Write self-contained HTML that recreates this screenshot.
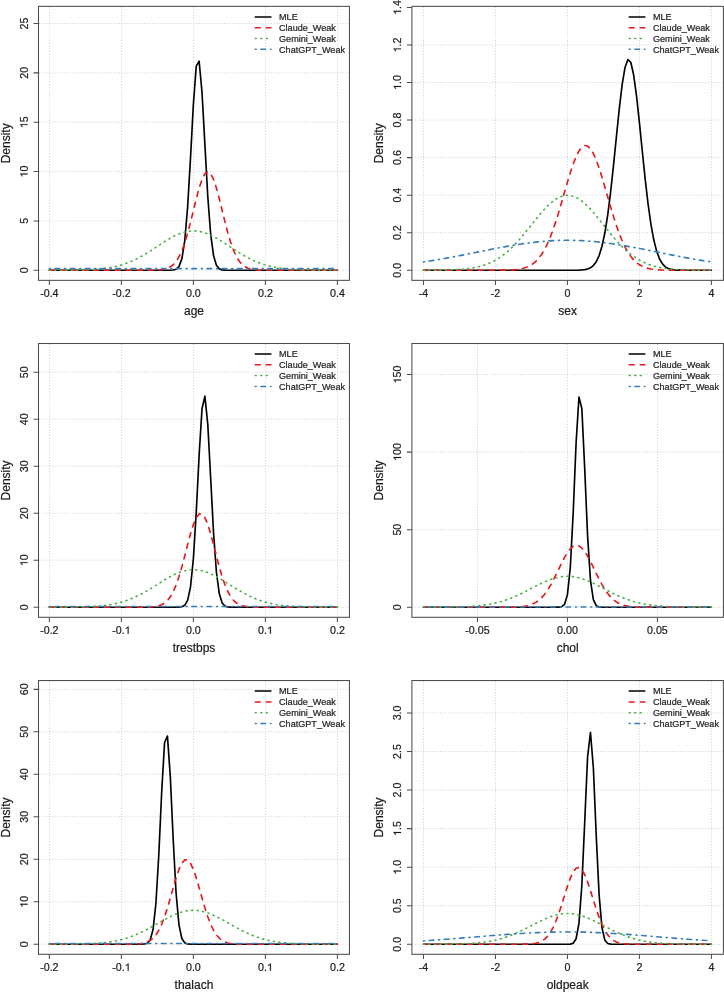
<!DOCTYPE html>
<html><head><meta charset="utf-8"><title>Density plots</title>
<style>
html,body{margin:0;padding:0;background:#fff;}
body{width:724px;height:992px;overflow:hidden;}
svg{display:block;will-change:transform;}
text{font-family:"Liberation Sans",sans-serif;fill:#111111;stroke:#333;stroke-width:0.22px;}
.tk{font-size:10.7px;}
.ttl{font-size:12px;}
.lg{font-size:9.08px;}
.hid{fill:none;stroke:none;}
.one{fill:#111111;stroke:#333;stroke-width:41px;}
</style></head>
<body>
<svg width="724" height="992" viewBox="0 0 724 992">
<rect width="724" height="992" fill="#ffffff"/>
<g stroke="#d0d0d0" stroke-width="1.0" stroke-dasharray="1.0 1.76" fill="none"><line x1="49.35" y1="6.85" x2="49.35" y2="279.85"/><line x1="121.36" y1="6.85" x2="121.36" y2="279.85"/><line x1="193.37" y1="6.85" x2="193.37" y2="279.85"/><line x1="265.39" y1="6.85" x2="265.39" y2="279.85"/><line x1="337.4" y1="6.85" x2="337.4" y2="279.85"/><line x1="39" y1="270.25" x2="348.95" y2="270.25"/><line x1="39" y1="220.9" x2="348.95" y2="220.9"/><line x1="39" y1="171.55" x2="348.95" y2="171.55"/><line x1="39" y1="122.2" x2="348.95" y2="122.2"/><line x1="39" y1="72.85" x2="348.95" y2="72.85"/><line x1="39" y1="23.5" x2="348.95" y2="23.5"/></g>
<polyline points="49.35,270.25 52.23,270.25 55.11,270.25 57.99,270.25 60.87,270.25 63.75,270.25 66.63,270.25 69.51,270.25 72.39,270.25 75.27,270.25 78.16,270.25 81.04,270.25 83.92,270.25 86.8,270.25 89.68,270.25 92.56,270.25 95.44,270.25 98.32,270.25 101.2,270.25 104.08,270.25 106.96,270.25 109.84,270.25 112.72,270.25 115.6,270.25 118.48,270.25 121.36,270.25 124.24,270.25 127.12,270.25 130,270.25 132.88,270.25 135.76,270.25 138.65,270.25 141.53,270.25 144.41,270.25 147.29,270.25 150.17,270.25 153.05,270.25 155.93,270.25 158.81,270.25 161.69,270.25 164.57,270.25 167.45,270.24 170.33,270.21 173.21,270.03 176.09,269.27 178.97,266.6 181.85,258.91 184.73,240.98 187.61,207.47 190.49,158.33 193.37,104.43 196.26,66.07 199.14,61.29 202.02,92.52 204.9,144.61 207.78,196.43 210.66,234.21 213.54,255.62 216.42,265.32 219.3,268.87 222.18,269.93 225.06,270.19 227.94,270.24 230.82,270.25 233.7,270.25 236.58,270.25 239.46,270.25 242.34,270.25 245.22,270.25 248.1,270.25 250.98,270.25 253.87,270.25 256.75,270.25 259.63,270.25 262.51,270.25 265.39,270.25 268.27,270.25 271.15,270.25 274.03,270.25 276.91,270.25 279.79,270.25 282.67,270.25 285.55,270.25 288.43,270.25 291.31,270.25 294.19,270.25 297.07,270.25 299.95,270.25 302.83,270.25 305.71,270.25 308.59,270.25 311.48,270.25 314.36,270.25 317.24,270.25 320.12,270.25 323,270.25 325.88,270.25 328.76,270.25 331.64,270.25 334.52,270.25 337.4,270.25" fill="none" stroke="#000000" stroke-width="1.65" stroke-linecap="round" stroke-linejoin="round"/>
<polyline points="49.35,270.25 52.23,270.25 55.11,270.25 57.99,270.25 60.87,270.25 63.75,270.25 66.63,270.25 69.51,270.25 72.39,270.25 75.27,270.25 78.16,270.25 81.04,270.25 83.92,270.25 86.8,270.25 89.68,270.25 92.56,270.25 95.44,270.25 98.32,270.25 101.2,270.25 104.08,270.25 106.96,270.25 109.84,270.25 112.72,270.25 115.6,270.25 118.48,270.25 121.36,270.25 124.24,270.25 127.12,270.25 130,270.25 132.88,270.25 135.76,270.25 138.65,270.25 141.53,270.25 144.41,270.24 147.29,270.24 150.17,270.22 153.05,270.18 155.93,270.1 158.81,269.95 161.69,269.66 164.57,269.16 167.45,268.3 170.33,266.9 173.21,264.72 176.09,261.5 178.97,256.93 181.85,250.77 184.73,242.88 187.61,233.3 190.49,222.33 193.37,210.54 196.26,198.77 199.14,188.03 202.02,179.38 204.9,173.76 207.78,171.81 210.66,173.76 213.54,179.38 216.42,188.03 219.3,198.77 222.18,210.54 225.06,222.33 227.94,233.3 230.82,242.88 233.7,250.77 236.58,256.93 239.46,261.5 242.34,264.72 245.22,266.9 248.1,268.3 250.98,269.16 253.87,269.66 256.75,269.95 259.63,270.1 262.51,270.18 265.39,270.22 268.27,270.24 271.15,270.24 274.03,270.25 276.91,270.25 279.79,270.25 282.67,270.25 285.55,270.25 288.43,270.25 291.31,270.25 294.19,270.25 297.07,270.25 299.95,270.25 302.83,270.25 305.71,270.25 308.59,270.25 311.48,270.25 314.36,270.25 317.24,270.25 320.12,270.25 323,270.25 325.88,270.25 328.76,270.25 331.64,270.25 334.52,270.25 337.4,270.25" fill="none" stroke="#E41A1C" stroke-width="1.65" stroke-linecap="round" stroke-linejoin="round" stroke-dasharray="5.0 6.0"/>
<polyline points="49.35,270.24 52.23,270.23 55.11,270.23 57.99,270.22 60.87,270.2 63.75,270.19 66.63,270.17 69.51,270.14 72.39,270.11 75.27,270.07 78.16,270.01 81.04,269.95 83.92,269.86 86.8,269.76 89.68,269.63 92.56,269.47 95.44,269.28 98.32,269.04 101.2,268.76 104.08,268.43 106.96,268.04 109.84,267.58 112.72,267.05 115.6,266.43 118.48,265.72 121.36,264.92 124.24,264.02 127.12,263 130,261.88 132.88,260.65 135.76,259.3 138.65,257.85 141.53,256.29 144.41,254.63 147.29,252.89 150.17,251.08 153.05,249.22 155.93,247.32 158.81,245.41 161.69,243.52 164.57,241.66 167.45,239.87 170.33,238.17 173.21,236.59 176.09,235.16 178.97,233.9 181.85,232.84 184.73,231.99 187.61,231.38 190.49,231 193.37,230.87 196.26,231 199.14,231.38 202.02,231.99 204.9,232.84 207.78,233.9 210.66,235.16 213.54,236.59 216.42,238.17 219.3,239.87 222.18,241.66 225.06,243.52 227.94,245.41 230.82,247.32 233.7,249.22 236.58,251.08 239.46,252.89 242.34,254.63 245.22,256.29 248.1,257.85 250.98,259.3 253.87,260.65 256.75,261.88 259.63,263 262.51,264.02 265.39,264.92 268.27,265.72 271.15,266.43 274.03,267.05 276.91,267.58 279.79,268.04 282.67,268.43 285.55,268.76 288.43,269.04 291.31,269.28 294.19,269.47 297.07,269.63 299.95,269.76 302.83,269.86 305.71,269.95 308.59,270.01 311.48,270.07 314.36,270.11 317.24,270.14 320.12,270.17 323,270.19 325.88,270.2 328.76,270.22 331.64,270.23 334.52,270.23 337.4,270.24" fill="none" stroke="#4DAF4A" stroke-width="1.65" stroke-linecap="round" stroke-linejoin="round" stroke-dasharray="1.0 4.52"/>
<polyline points="49.35,268.7 52.23,268.69 55.11,268.69 57.99,268.69 60.87,268.69 63.75,268.69 66.63,268.69 69.51,268.69 72.39,268.69 75.27,268.69 78.16,268.69 81.04,268.69 83.92,268.69 86.8,268.69 89.68,268.69 92.56,268.68 95.44,268.68 98.32,268.68 101.2,268.68 104.08,268.68 106.96,268.68 109.84,268.68 112.72,268.68 115.6,268.68 118.48,268.68 121.36,268.68 124.24,268.68 127.12,268.68 130,268.68 132.88,268.68 135.76,268.68 138.65,268.68 141.53,268.68 144.41,268.68 147.29,268.68 150.17,268.68 153.05,268.68 155.93,268.68 158.81,268.68 161.69,268.68 164.57,268.68 167.45,268.68 170.33,268.68 173.21,268.68 176.09,268.68 178.97,268.68 181.85,268.68 184.73,268.68 187.61,268.68 190.49,268.67 193.37,268.67 196.26,268.67 199.14,268.68 202.02,268.68 204.9,268.68 207.78,268.68 210.66,268.68 213.54,268.68 216.42,268.68 219.3,268.68 222.18,268.68 225.06,268.68 227.94,268.68 230.82,268.68 233.7,268.68 236.58,268.68 239.46,268.68 242.34,268.68 245.22,268.68 248.1,268.68 250.98,268.68 253.87,268.68 256.75,268.68 259.63,268.68 262.51,268.68 265.39,268.68 268.27,268.68 271.15,268.68 274.03,268.68 276.91,268.68 279.79,268.68 282.67,268.68 285.55,268.68 288.43,268.68 291.31,268.68 294.19,268.68 297.07,268.69 299.95,268.69 302.83,268.69 305.71,268.69 308.59,268.69 311.48,268.69 314.36,268.69 317.24,268.69 320.12,268.69 323,268.69 325.88,268.69 328.76,268.69 331.64,268.69 334.52,268.69 337.4,268.7" fill="none" stroke="#377EB8" stroke-width="1.65" stroke-linecap="round" stroke-linejoin="round" stroke-dasharray="1.0 4.7 4.6 4.9"/>
<rect x="38.5" y="6.35" width="310.95" height="274" fill="none" stroke="#4d4d4d" stroke-width="1.05"/>
<path d="M49.35 280.35v4.6M121.36 280.35v4.6M193.37 280.35v4.6M265.39 280.35v4.6M337.4 280.35v4.6M38.5 270.25h-5M38.5 220.9h-5M38.5 171.55h-5M38.5 122.2h-5M38.5 72.85h-5M38.5 23.5h-5" stroke="#4d4d4d" stroke-width="1.05" fill="none"/>
<g transform="translate(49.35 296.9)"><text x="0" y="0" class="tk" text-anchor="middle">-0.4</text></g>
<g transform="translate(121.36 296.9)"><text x="0" y="0" class="tk" text-anchor="middle">-0.2</text></g>
<g transform="translate(193.37 296.9)"><text x="0" y="0" class="tk" text-anchor="middle">0.0</text></g>
<g transform="translate(265.39 296.9)"><text x="0" y="0" class="tk" text-anchor="middle">0.2</text></g>
<g transform="translate(337.4 296.9)"><text x="0" y="0" class="tk" text-anchor="middle">0.4</text></g>
<g transform="translate(27.6 270.25) rotate(-90)"><text x="0" y="0" class="tk" text-anchor="middle">0</text></g>
<g transform="translate(27.6 220.9) rotate(-90)"><text x="0" y="0" class="tk" text-anchor="middle">5</text></g>
<g transform="translate(27.6 171.55) rotate(-90)"><text x="0" y="0" class="tk" text-anchor="middle"><tspan class="hid">1</tspan>0</text><g class="one"><path d="M763 0L583 0L583 1147Q430 1010 223 938L223 1112Q470 1215 646 1409L763 1409Z" transform="translate(-5.95 0) scale(0.005225 -0.005225)"/></g></g>
<g transform="translate(27.6 122.2) rotate(-90)"><text x="0" y="0" class="tk" text-anchor="middle"><tspan class="hid">1</tspan>5</text><g class="one"><path d="M763 0L583 0L583 1147Q430 1010 223 938L223 1112Q470 1215 646 1409L763 1409Z" transform="translate(-5.95 0) scale(0.005225 -0.005225)"/></g></g>
<g transform="translate(27.6 72.85) rotate(-90)"><text x="0" y="0" class="tk" text-anchor="middle">20</text></g>
<g transform="translate(27.6 23.5) rotate(-90)"><text x="0" y="0" class="tk" text-anchor="middle">25</text></g>
<text x="193.97" y="314.75" class="ttl" text-anchor="middle">age</text>
<text transform="translate(9.9 143.35) rotate(-90)" class="ttl" text-anchor="middle">Density</text>
<line x1="255.25" y1="16.9" x2="270.95" y2="16.9" stroke="#000000" stroke-width="1.5" stroke-linecap="round"/>
<text x="279.05" y="20.15" class="lg">MLE</text>
<line x1="255.25" y1="27.7" x2="270.95" y2="27.7" stroke="#E41A1C" stroke-width="1.5" stroke-linecap="round" stroke-dasharray="5.0 6.0"/>
<text x="279.05" y="30.95" class="lg">Claude_Weak</text>
<line x1="255.25" y1="38.45" x2="270.95" y2="38.45" stroke="#4DAF4A" stroke-width="1.5" stroke-linecap="round" stroke-dasharray="1.0 4.52"/>
<text x="279.05" y="41.7" class="lg">Gemini_Weak</text>
<line x1="255.25" y1="49.3" x2="270.95" y2="49.3" stroke="#377EB8" stroke-width="1.5" stroke-linecap="round" stroke-dasharray="1.0 4.7 4.6 4.9"/>
<text x="279.05" y="52.55" class="lg">ChatGPT_Weak</text>
<g stroke="#d0d0d0" stroke-width="1.0" stroke-dasharray="1.0 1.76" fill="none"><line x1="423.5" y1="6.85" x2="423.5" y2="279.85"/><line x1="495.48" y1="6.85" x2="495.48" y2="279.85"/><line x1="567.45" y1="6.85" x2="567.45" y2="279.85"/><line x1="639.42" y1="6.85" x2="639.42" y2="279.85"/><line x1="711.4" y1="6.85" x2="711.4" y2="279.85"/><line x1="412.4" y1="270.25" x2="722.9" y2="270.25"/><line x1="412.4" y1="232.7" x2="722.9" y2="232.7"/><line x1="412.4" y1="195.15" x2="722.9" y2="195.15"/><line x1="412.4" y1="157.6" x2="722.9" y2="157.6"/><line x1="412.4" y1="120.05" x2="722.9" y2="120.05"/><line x1="412.4" y1="82.5" x2="722.9" y2="82.5"/><line x1="412.4" y1="44.95" x2="722.9" y2="44.95"/></g>
<polyline points="423.5,270.25 426.38,270.25 429.26,270.25 432.14,270.25 435.02,270.25 437.89,270.25 440.77,270.25 443.65,270.25 446.53,270.25 449.41,270.25 452.29,270.25 455.17,270.25 458.05,270.25 460.93,270.25 463.81,270.25 466.69,270.25 469.56,270.25 472.44,270.25 475.32,270.25 478.2,270.25 481.08,270.25 483.96,270.25 486.84,270.25 489.72,270.25 492.6,270.25 495.48,270.25 498.35,270.25 501.23,270.25 504.11,270.25 506.99,270.25 509.87,270.25 512.75,270.25 515.63,270.25 518.51,270.25 521.39,270.25 524.26,270.25 527.14,270.25 530.02,270.25 532.9,270.25 535.78,270.25 538.66,270.25 541.54,270.25 544.42,270.25 547.3,270.25 550.18,270.25 553.06,270.25 555.93,270.25 558.81,270.25 561.69,270.25 564.57,270.25 567.45,270.25 570.33,270.24 573.21,270.23 576.09,270.21 578.97,270.14 581.85,269.99 584.72,269.67 587.6,269.03 590.48,267.81 593.36,265.58 596.24,261.77 599.12,255.61 602,246.22 604.88,232.78 607.76,214.71 610.63,192 613.51,165.46 616.39,136.87 619.27,108.89 622.15,84.71 625.03,67.47 627.91,59.59 630.79,62.25 633.67,75.05 636.55,96.12 639.42,122.62 642.3,151.28 645.18,179.12 648.06,203.9 650.94,224.34 653.82,240.05 656.7,251.37 659.58,259.03 662.46,263.91 665.34,266.85 668.21,268.51 671.09,269.41 673.97,269.86 676.85,270.08 679.73,270.18 682.61,270.22 685.49,270.24 688.37,270.25 691.25,270.25 694.13,270.25 697,270.25 699.88,270.25 702.76,270.25 705.64,270.25 708.52,270.25 711.4,270.25" fill="none" stroke="#000000" stroke-width="1.65" stroke-linecap="round" stroke-linejoin="round"/>
<polyline points="423.5,270.25 426.38,270.25 429.26,270.25 432.14,270.25 435.02,270.25 437.89,270.25 440.77,270.25 443.65,270.25 446.53,270.25 449.41,270.25 452.29,270.25 455.17,270.25 458.05,270.25 460.93,270.25 463.81,270.25 466.69,270.25 469.56,270.25 472.44,270.25 475.32,270.25 478.2,270.25 481.08,270.25 483.96,270.25 486.84,270.25 489.72,270.24 492.6,270.24 495.48,270.23 498.35,270.21 501.23,270.19 504.11,270.15 506.99,270.08 509.87,269.98 512.75,269.82 515.63,269.58 518.51,269.23 521.39,268.72 524.26,268 527.14,266.99 530.02,265.62 532.9,263.78 535.78,261.39 538.66,258.31 541.54,254.45 544.42,249.72 547.3,244.03 550.18,237.36 553.06,229.72 555.93,221.19 558.81,211.9 561.69,202.08 564.57,192.01 567.45,182.04 570.33,172.54 573.21,163.93 576.09,156.6 578.97,150.91 581.85,147.14 584.72,145.48 587.6,146.04 590.48,148.77 593.36,153.53 596.24,160.08 599.12,168.1 602,177.2 604.88,186.99 607.76,197.06 610.63,207.04 613.51,216.63 616.39,225.56 619.27,233.66 622.15,240.82 625.03,247 627.91,252.2 630.79,256.49 633.67,259.94 636.55,262.66 639.42,264.77 642.3,266.35 645.18,267.53 648.06,268.39 650.94,269 653.82,269.42 656.7,269.71 659.58,269.91 662.46,270.03 665.34,270.12 668.21,270.17 671.09,270.2 673.97,270.22 676.85,270.23 679.73,270.24 682.61,270.24 685.49,270.25 688.37,270.25 691.25,270.25 694.13,270.25 697,270.25 699.88,270.25 702.76,270.25 705.64,270.25 708.52,270.25 711.4,270.25" fill="none" stroke="#E41A1C" stroke-width="1.65" stroke-linecap="round" stroke-linejoin="round" stroke-dasharray="5.0 6.0"/>
<polyline points="423.5,270.22 426.38,270.22 429.26,270.2 432.14,270.19 435.02,270.16 437.89,270.14 440.77,270.1 443.65,270.05 446.53,269.99 449.41,269.9 452.29,269.8 455.17,269.67 458.05,269.51 460.93,269.31 463.81,269.07 466.69,268.76 469.56,268.4 472.44,267.95 475.32,267.42 478.2,266.79 481.08,266.05 483.96,265.17 486.84,264.16 489.72,262.98 492.6,261.64 495.48,260.11 498.35,258.39 501.23,256.47 504.11,254.33 506.99,251.99 509.87,249.42 512.75,246.66 515.63,243.69 518.51,240.54 521.39,237.23 524.26,233.79 527.14,230.25 530.02,226.64 532.9,223 535.78,219.4 538.66,215.86 541.54,212.45 544.42,209.22 547.3,206.22 550.18,203.5 553.06,201.11 555.93,199.09 558.81,197.47 561.69,196.3 564.57,195.59 567.45,195.35 570.33,195.59 573.21,196.3 576.09,197.47 578.97,199.09 581.85,201.11 584.72,203.5 587.6,206.22 590.48,209.22 593.36,212.45 596.24,215.86 599.12,219.4 602,223 604.88,226.64 607.76,230.25 610.63,233.79 613.51,237.23 616.39,240.54 619.27,243.69 622.15,246.66 625.03,249.42 627.91,251.99 630.79,254.33 633.67,256.47 636.55,258.39 639.42,260.11 642.3,261.64 645.18,262.98 648.06,264.16 650.94,265.17 653.82,266.05 656.7,266.79 659.58,267.42 662.46,267.95 665.34,268.4 668.21,268.76 671.09,269.07 673.97,269.31 676.85,269.51 679.73,269.67 682.61,269.8 685.49,269.9 688.37,269.99 691.25,270.05 694.13,270.1 697,270.14 699.88,270.16 702.76,270.19 705.64,270.2 708.52,270.22 711.4,270.22" fill="none" stroke="#4DAF4A" stroke-width="1.65" stroke-linecap="round" stroke-linejoin="round" stroke-dasharray="1.0 4.52"/>
<polyline points="423.5,261.92 426.38,261.49 429.26,261.04 432.14,260.58 435.02,260.11 437.89,259.63 440.77,259.13 443.65,258.62 446.53,258.11 449.41,257.58 452.29,257.04 455.17,256.5 458.05,255.95 460.93,255.39 463.81,254.82 466.69,254.25 469.56,253.67 472.44,253.09 475.32,252.51 478.2,251.93 481.08,251.35 483.96,250.77 486.84,250.2 489.72,249.62 492.6,249.05 495.48,248.49 498.35,247.94 501.23,247.4 504.11,246.87 506.99,246.34 509.87,245.84 512.75,245.35 515.63,244.87 518.51,244.41 521.39,243.97 524.26,243.55 527.14,243.15 530.02,242.77 532.9,242.42 535.78,242.09 538.66,241.78 541.54,241.51 544.42,241.26 547.3,241.03 550.18,240.84 553.06,240.67 555.93,240.53 558.81,240.43 561.69,240.35 564.57,240.3 567.45,240.29 570.33,240.3 573.21,240.35 576.09,240.43 578.97,240.53 581.85,240.67 584.72,240.84 587.6,241.03 590.48,241.26 593.36,241.51 596.24,241.78 599.12,242.09 602,242.42 604.88,242.77 607.76,243.15 610.63,243.55 613.51,243.97 616.39,244.41 619.27,244.87 622.15,245.35 625.03,245.84 627.91,246.34 630.79,246.87 633.67,247.4 636.55,247.94 639.42,248.49 642.3,249.05 645.18,249.62 648.06,250.2 650.94,250.77 653.82,251.35 656.7,251.93 659.58,252.51 662.46,253.09 665.34,253.67 668.21,254.25 671.09,254.82 673.97,255.39 676.85,255.95 679.73,256.5 682.61,257.04 685.49,257.58 688.37,258.11 691.25,258.62 694.13,259.13 697,259.63 699.88,260.11 702.76,260.58 705.64,261.04 708.52,261.49 711.4,261.92" fill="none" stroke="#377EB8" stroke-width="1.65" stroke-linecap="round" stroke-linejoin="round" stroke-dasharray="1.0 4.7 4.6 4.9"/>
<rect x="411.9" y="6.35" width="311.5" height="274" fill="none" stroke="#4d4d4d" stroke-width="1.05"/>
<path d="M423.5 280.35v4.6M495.48 280.35v4.6M567.45 280.35v4.6M639.42 280.35v4.6M711.4 280.35v4.6M411.9 270.25h-5M411.9 232.7h-5M411.9 195.15h-5M411.9 157.6h-5M411.9 120.05h-5M411.9 82.5h-5M411.9 44.95h-5M411.9 7.4h-5" stroke="#4d4d4d" stroke-width="1.05" fill="none"/>
<g transform="translate(423.5 296.9)"><text x="0" y="0" class="tk" text-anchor="middle">-4</text></g>
<g transform="translate(495.48 296.9)"><text x="0" y="0" class="tk" text-anchor="middle">-2</text></g>
<g transform="translate(567.45 296.9)"><text x="0" y="0" class="tk" text-anchor="middle">0</text></g>
<g transform="translate(639.42 296.9)"><text x="0" y="0" class="tk" text-anchor="middle">2</text></g>
<g transform="translate(711.4 296.9)"><text x="0" y="0" class="tk" text-anchor="middle">4</text></g>
<g transform="translate(401 270.25) rotate(-90)"><text x="0" y="0" class="tk" text-anchor="middle">0.0</text></g>
<g transform="translate(401 232.7) rotate(-90)"><text x="0" y="0" class="tk" text-anchor="middle">0.2</text></g>
<g transform="translate(401 195.15) rotate(-90)"><text x="0" y="0" class="tk" text-anchor="middle">0.4</text></g>
<g transform="translate(401 157.6) rotate(-90)"><text x="0" y="0" class="tk" text-anchor="middle">0.6</text></g>
<g transform="translate(401 120.05) rotate(-90)"><text x="0" y="0" class="tk" text-anchor="middle">0.8</text></g>
<g transform="translate(401 82.5) rotate(-90)"><text x="0" y="0" class="tk" text-anchor="middle"><tspan class="hid">1</tspan>.0</text><g class="one"><path d="M763 0L583 0L583 1147Q430 1010 223 938L223 1112Q470 1215 646 1409L763 1409Z" transform="translate(-7.44 0) scale(0.005225 -0.005225)"/></g></g>
<g transform="translate(401 44.95) rotate(-90)"><text x="0" y="0" class="tk" text-anchor="middle"><tspan class="hid">1</tspan>.2</text><g class="one"><path d="M763 0L583 0L583 1147Q430 1010 223 938L223 1112Q470 1215 646 1409L763 1409Z" transform="translate(-7.44 0) scale(0.005225 -0.005225)"/></g></g>
<g transform="translate(401 7.4) rotate(-90)"><text x="0" y="0" class="tk" text-anchor="middle"><tspan class="hid">1</tspan>.4</text><g class="one"><path d="M763 0L583 0L583 1147Q430 1010 223 938L223 1112Q470 1215 646 1409L763 1409Z" transform="translate(-7.44 0) scale(0.005225 -0.005225)"/></g></g>
<text x="567.65" y="314.75" class="ttl" text-anchor="middle">sex</text>
<text transform="translate(383.3 143.35) rotate(-90)" class="ttl" text-anchor="middle">Density</text>
<line x1="629.2" y1="16.9" x2="644.9" y2="16.9" stroke="#000000" stroke-width="1.5" stroke-linecap="round"/>
<text x="653" y="20.15" class="lg">MLE</text>
<line x1="629.2" y1="27.7" x2="644.9" y2="27.7" stroke="#E41A1C" stroke-width="1.5" stroke-linecap="round" stroke-dasharray="5.0 6.0"/>
<text x="653" y="30.95" class="lg">Claude_Weak</text>
<line x1="629.2" y1="38.45" x2="644.9" y2="38.45" stroke="#4DAF4A" stroke-width="1.5" stroke-linecap="round" stroke-dasharray="1.0 4.52"/>
<text x="653" y="41.7" class="lg">Gemini_Weak</text>
<line x1="629.2" y1="49.3" x2="644.9" y2="49.3" stroke="#377EB8" stroke-width="1.5" stroke-linecap="round" stroke-dasharray="1.0 4.7 4.6 4.9"/>
<text x="653" y="52.55" class="lg">ChatGPT_Weak</text>
<g stroke="#d0d0d0" stroke-width="1.0" stroke-dasharray="1.0 1.76" fill="none"><line x1="49.35" y1="344" x2="49.35" y2="616.8"/><line x1="121.36" y1="344" x2="121.36" y2="616.8"/><line x1="193.37" y1="344" x2="193.37" y2="616.8"/><line x1="265.39" y1="344" x2="265.39" y2="616.8"/><line x1="337.4" y1="344" x2="337.4" y2="616.8"/><line x1="39" y1="607.2" x2="348.95" y2="607.2"/><line x1="39" y1="560.2" x2="348.95" y2="560.2"/><line x1="39" y1="513.2" x2="348.95" y2="513.2"/><line x1="39" y1="466.2" x2="348.95" y2="466.2"/><line x1="39" y1="419.2" x2="348.95" y2="419.2"/><line x1="39" y1="372.2" x2="348.95" y2="372.2"/></g>
<polyline points="49.35,607.2 52.23,607.2 55.11,607.2 57.99,607.2 60.87,607.2 63.75,607.2 66.63,607.2 69.51,607.2 72.39,607.2 75.27,607.2 78.16,607.2 81.04,607.2 83.92,607.2 86.8,607.2 89.68,607.2 92.56,607.2 95.44,607.2 98.32,607.2 101.2,607.2 104.08,607.2 106.96,607.2 109.84,607.2 112.72,607.2 115.6,607.2 118.48,607.2 121.36,607.2 124.24,607.2 127.12,607.2 130,607.2 132.88,607.2 135.76,607.2 138.65,607.2 141.53,607.2 144.41,607.2 147.29,607.2 150.17,607.2 153.05,607.2 155.93,607.2 158.81,607.2 161.69,607.2 164.57,607.2 167.45,607.2 170.33,607.2 173.21,607.2 176.09,607.19 178.97,607.12 181.85,606.78 184.73,605.32 187.61,600.38 190.49,587.06 193.37,558.73 196.26,512.08 199.14,455.03 202.02,408.74 204.9,396.2 207.78,424.31 210.66,477.97 213.54,532.76 216.42,572.24 219.3,593.82 222.18,603.02 225.06,606.14 227.94,606.98 230.82,607.16 233.7,607.19 236.58,607.2 239.46,607.2 242.34,607.2 245.22,607.2 248.1,607.2 250.98,607.2 253.87,607.2 256.75,607.2 259.63,607.2 262.51,607.2 265.39,607.2 268.27,607.2 271.15,607.2 274.03,607.2 276.91,607.2 279.79,607.2 282.67,607.2 285.55,607.2 288.43,607.2 291.31,607.2 294.19,607.2 297.07,607.2 299.95,607.2 302.83,607.2 305.71,607.2 308.59,607.2 311.48,607.2 314.36,607.2 317.24,607.2 320.12,607.2 323,607.2 325.88,607.2 328.76,607.2 331.64,607.2 334.52,607.2 337.4,607.2" fill="none" stroke="#000000" stroke-width="1.65" stroke-linecap="round" stroke-linejoin="round"/>
<polyline points="49.35,607.2 52.23,607.2 55.11,607.2 57.99,607.2 60.87,607.2 63.75,607.2 66.63,607.2 69.51,607.2 72.39,607.2 75.27,607.2 78.16,607.2 81.04,607.2 83.92,607.2 86.8,607.2 89.68,607.2 92.56,607.2 95.44,607.2 98.32,607.2 101.2,607.2 104.08,607.2 106.96,607.2 109.84,607.2 112.72,607.2 115.6,607.2 118.48,607.2 121.36,607.2 124.24,607.2 127.12,607.2 130,607.2 132.88,607.2 135.76,607.2 138.65,607.19 141.53,607.18 144.41,607.15 147.29,607.1 150.17,606.99 153.05,606.8 155.93,606.43 158.81,605.8 161.69,604.75 164.57,603.08 167.45,600.54 170.33,596.86 173.21,591.78 176.09,585.1 178.97,576.76 181.85,566.93 184.73,556 187.61,544.67 190.49,533.82 193.37,524.46 196.26,517.57 199.14,513.92 202.02,513.92 204.9,517.57 207.78,524.46 210.66,533.82 213.54,544.67 216.42,556 219.3,566.93 222.18,576.76 225.06,585.1 227.94,591.78 230.82,596.86 233.7,600.54 236.58,603.08 239.46,604.75 242.34,605.8 245.22,606.43 248.1,606.8 250.98,606.99 253.87,607.1 256.75,607.15 259.63,607.18 262.51,607.19 265.39,607.2 268.27,607.2 271.15,607.2 274.03,607.2 276.91,607.2 279.79,607.2 282.67,607.2 285.55,607.2 288.43,607.2 291.31,607.2 294.19,607.2 297.07,607.2 299.95,607.2 302.83,607.2 305.71,607.2 308.59,607.2 311.48,607.2 314.36,607.2 317.24,607.2 320.12,607.2 323,607.2 325.88,607.2 328.76,607.2 331.64,607.2 334.52,607.2 337.4,607.2" fill="none" stroke="#E41A1C" stroke-width="1.65" stroke-linecap="round" stroke-linejoin="round" stroke-dasharray="5.0 6.0"/>
<polyline points="49.35,607.19 52.23,607.18 55.11,607.18 57.99,607.17 60.87,607.16 63.75,607.14 66.63,607.12 69.51,607.1 72.39,607.07 75.27,607.03 78.16,606.98 81.04,606.91 83.92,606.83 86.8,606.73 89.68,606.61 92.56,606.46 95.44,606.27 98.32,606.05 101.2,605.78 104.08,605.47 106.96,605.09 109.84,604.66 112.72,604.15 115.6,603.56 118.48,602.89 121.36,602.12 124.24,601.26 127.12,600.3 130,599.23 132.88,598.06 135.76,596.77 138.65,595.39 141.53,593.9 144.41,592.33 147.29,590.67 150.17,588.95 153.05,587.17 155.93,585.36 158.81,583.55 161.69,581.74 164.57,579.97 167.45,578.26 170.33,576.64 173.21,575.14 176.09,573.78 178.97,572.58 181.85,571.57 184.73,570.76 187.61,570.18 190.49,569.82 193.37,569.7 196.26,569.82 199.14,570.18 202.02,570.76 204.9,571.57 207.78,572.58 210.66,573.78 213.54,575.14 216.42,576.64 219.3,578.26 222.18,579.97 225.06,581.74 227.94,583.55 230.82,585.36 233.7,587.17 236.58,588.95 239.46,590.67 242.34,592.33 245.22,593.9 248.1,595.39 250.98,596.77 253.87,598.06 256.75,599.23 259.63,600.3 262.51,601.26 265.39,602.12 268.27,602.89 271.15,603.56 274.03,604.15 276.91,604.66 279.79,605.09 282.67,605.47 285.55,605.78 288.43,606.05 291.31,606.27 294.19,606.46 297.07,606.61 299.95,606.73 302.83,606.83 305.71,606.91 308.59,606.98 311.48,607.03 314.36,607.07 317.24,607.1 320.12,607.12 323,607.14 325.88,607.16 328.76,607.17 331.64,607.18 334.52,607.18 337.4,607.19" fill="none" stroke="#4DAF4A" stroke-width="1.65" stroke-linecap="round" stroke-linejoin="round" stroke-dasharray="1.0 4.52"/>
<polyline points="49.35,606.45 52.23,606.45 55.11,606.45 57.99,606.45 60.87,606.45 63.75,606.45 66.63,606.45 69.51,606.45 72.39,606.45 75.27,606.45 78.16,606.45 81.04,606.45 83.92,606.45 86.8,606.45 89.68,606.45 92.56,606.45 95.44,606.45 98.32,606.45 101.2,606.45 104.08,606.45 106.96,606.45 109.84,606.45 112.72,606.45 115.6,606.45 118.48,606.45 121.36,606.45 124.24,606.45 127.12,606.45 130,606.45 132.88,606.45 135.76,606.45 138.65,606.45 141.53,606.45 144.41,606.45 147.29,606.45 150.17,606.45 153.05,606.45 155.93,606.45 158.81,606.45 161.69,606.45 164.57,606.45 167.45,606.45 170.33,606.45 173.21,606.45 176.09,606.45 178.97,606.45 181.85,606.45 184.73,606.45 187.61,606.45 190.49,606.45 193.37,606.45 196.26,606.45 199.14,606.45 202.02,606.45 204.9,606.45 207.78,606.45 210.66,606.45 213.54,606.45 216.42,606.45 219.3,606.45 222.18,606.45 225.06,606.45 227.94,606.45 230.82,606.45 233.7,606.45 236.58,606.45 239.46,606.45 242.34,606.45 245.22,606.45 248.1,606.45 250.98,606.45 253.87,606.45 256.75,606.45 259.63,606.45 262.51,606.45 265.39,606.45 268.27,606.45 271.15,606.45 274.03,606.45 276.91,606.45 279.79,606.45 282.67,606.45 285.55,606.45 288.43,606.45 291.31,606.45 294.19,606.45 297.07,606.45 299.95,606.45 302.83,606.45 305.71,606.45 308.59,606.45 311.48,606.45 314.36,606.45 317.24,606.45 320.12,606.45 323,606.45 325.88,606.45 328.76,606.45 331.64,606.45 334.52,606.45 337.4,606.45" fill="none" stroke="#377EB8" stroke-width="1.65" stroke-linecap="round" stroke-linejoin="round" stroke-dasharray="1.0 4.7 4.6 4.9"/>
<rect x="38.5" y="343.5" width="310.95" height="273.8" fill="none" stroke="#4d4d4d" stroke-width="1.05"/>
<path d="M49.35 617.3v4.6M121.36 617.3v4.6M193.37 617.3v4.6M265.39 617.3v4.6M337.4 617.3v4.6M38.5 607.2h-5M38.5 560.2h-5M38.5 513.2h-5M38.5 466.2h-5M38.5 419.2h-5M38.5 372.2h-5" stroke="#4d4d4d" stroke-width="1.05" fill="none"/>
<g transform="translate(49.35 633.85)"><text x="0" y="0" class="tk" text-anchor="middle">-0.2</text></g>
<g transform="translate(121.36 633.85)"><text x="0" y="0" class="tk" text-anchor="middle">-0.<tspan class="hid">1</tspan></text><g class="one"><path d="M763 0L583 0L583 1147Q430 1010 223 938L223 1112Q470 1215 646 1409L763 1409Z" transform="translate(3.27 0) scale(0.005225 -0.005225)"/></g></g>
<g transform="translate(193.37 633.85)"><text x="0" y="0" class="tk" text-anchor="middle">0.0</text></g>
<g transform="translate(265.39 633.85)"><text x="0" y="0" class="tk" text-anchor="middle">0.<tspan class="hid">1</tspan></text><g class="one"><path d="M763 0L583 0L583 1147Q430 1010 223 938L223 1112Q470 1215 646 1409L763 1409Z" transform="translate(1.49 0) scale(0.005225 -0.005225)"/></g></g>
<g transform="translate(337.4 633.85)"><text x="0" y="0" class="tk" text-anchor="middle">0.2</text></g>
<g transform="translate(27.6 607.2) rotate(-90)"><text x="0" y="0" class="tk" text-anchor="middle">0</text></g>
<g transform="translate(27.6 560.2) rotate(-90)"><text x="0" y="0" class="tk" text-anchor="middle"><tspan class="hid">1</tspan>0</text><g class="one"><path d="M763 0L583 0L583 1147Q430 1010 223 938L223 1112Q470 1215 646 1409L763 1409Z" transform="translate(-5.95 0) scale(0.005225 -0.005225)"/></g></g>
<g transform="translate(27.6 513.2) rotate(-90)"><text x="0" y="0" class="tk" text-anchor="middle">20</text></g>
<g transform="translate(27.6 466.2) rotate(-90)"><text x="0" y="0" class="tk" text-anchor="middle">30</text></g>
<g transform="translate(27.6 419.2) rotate(-90)"><text x="0" y="0" class="tk" text-anchor="middle">40</text></g>
<g transform="translate(27.6 372.2) rotate(-90)"><text x="0" y="0" class="tk" text-anchor="middle">50</text></g>
<text x="193.97" y="651.7" class="ttl" text-anchor="middle">trestbps</text>
<text transform="translate(9.9 480.4) rotate(-90)" class="ttl" text-anchor="middle">Density</text>
<line x1="255.25" y1="354.05" x2="270.95" y2="354.05" stroke="#000000" stroke-width="1.5" stroke-linecap="round"/>
<text x="279.05" y="357.3" class="lg">MLE</text>
<line x1="255.25" y1="364.85" x2="270.95" y2="364.85" stroke="#E41A1C" stroke-width="1.5" stroke-linecap="round" stroke-dasharray="5.0 6.0"/>
<text x="279.05" y="368.1" class="lg">Claude_Weak</text>
<line x1="255.25" y1="375.6" x2="270.95" y2="375.6" stroke="#4DAF4A" stroke-width="1.5" stroke-linecap="round" stroke-dasharray="1.0 4.52"/>
<text x="279.05" y="378.85" class="lg">Gemini_Weak</text>
<line x1="255.25" y1="386.45" x2="270.95" y2="386.45" stroke="#377EB8" stroke-width="1.5" stroke-linecap="round" stroke-dasharray="1.0 4.7 4.6 4.9"/>
<text x="279.05" y="389.7" class="lg">ChatGPT_Weak</text>
<g stroke="#d0d0d0" stroke-width="1.0" stroke-dasharray="1.0 1.76" fill="none"><line x1="477.48" y1="344" x2="477.48" y2="616.8"/><line x1="567.45" y1="344" x2="567.45" y2="616.8"/><line x1="657.42" y1="344" x2="657.42" y2="616.8"/><line x1="412.4" y1="607.2" x2="722.9" y2="607.2"/><line x1="412.4" y1="529.65" x2="722.9" y2="529.65"/><line x1="412.4" y1="452.1" x2="722.9" y2="452.1"/><line x1="412.4" y1="374.55" x2="722.9" y2="374.55"/></g>
<polyline points="423.5,607.2 426.38,607.2 429.26,607.2 432.14,607.2 435.02,607.2 437.89,607.2 440.77,607.2 443.65,607.2 446.53,607.2 449.41,607.2 452.29,607.2 455.17,607.2 458.05,607.2 460.93,607.2 463.81,607.2 466.69,607.2 469.56,607.2 472.44,607.2 475.32,607.2 478.2,607.2 481.08,607.2 483.96,607.2 486.84,607.2 489.72,607.2 492.6,607.2 495.48,607.2 498.35,607.2 501.23,607.2 504.11,607.2 506.99,607.2 509.87,607.2 512.75,607.2 515.63,607.2 518.51,607.2 521.39,607.2 524.26,607.2 527.14,607.2 530.02,607.2 532.9,607.2 535.78,607.2 538.66,607.2 541.54,607.2 544.42,607.2 547.3,607.2 550.18,607.2 553.06,607.2 555.93,607.19 558.81,607.14 561.69,606.7 564.57,604.29 567.45,594.62 570.33,567.04 573.21,512.65 576.09,443.04 578.97,396.98 581.85,408.64 584.72,468.88 587.6,536.13 590.48,580.26 593.36,599.67 596.24,605.65 599.12,606.96 602,607.17 604.88,607.2 607.76,607.2 610.63,607.2 613.51,607.2 616.39,607.2 619.27,607.2 622.15,607.2 625.03,607.2 627.91,607.2 630.79,607.2 633.67,607.2 636.55,607.2 639.42,607.2 642.3,607.2 645.18,607.2 648.06,607.2 650.94,607.2 653.82,607.2 656.7,607.2 659.58,607.2 662.46,607.2 665.34,607.2 668.22,607.2 671.09,607.2 673.97,607.2 676.85,607.2 679.73,607.2 682.61,607.2 685.49,607.2 688.37,607.2 691.25,607.2 694.13,607.2 697.01,607.2 699.88,607.2 702.76,607.2 705.64,607.2 708.52,607.2 711.4,607.2" fill="none" stroke="#000000" stroke-width="1.65" stroke-linecap="round" stroke-linejoin="round"/>
<polyline points="423.5,607.2 426.38,607.2 429.26,607.2 432.14,607.2 435.02,607.2 437.89,607.2 440.77,607.2 443.65,607.2 446.53,607.2 449.41,607.2 452.29,607.2 455.17,607.2 458.05,607.2 460.93,607.2 463.81,607.2 466.69,607.2 469.56,607.2 472.44,607.2 475.32,607.2 478.2,607.2 481.08,607.2 483.96,607.2 486.84,607.2 489.72,607.2 492.6,607.2 495.48,607.2 498.35,607.19 501.23,607.19 504.11,607.18 506.99,607.16 509.87,607.13 512.75,607.08 515.63,607 518.51,606.85 521.39,606.63 524.26,606.28 527.14,605.75 530.02,604.98 532.9,603.89 535.78,602.39 538.66,600.38 541.54,597.78 544.42,594.51 547.3,590.54 550.18,585.89 553.06,580.62 555.93,574.89 558.81,568.92 561.69,562.99 564.57,557.43 567.45,552.59 570.33,548.8 573.21,546.32 576.09,545.34 578.97,545.93 581.85,548.05 584.72,551.54 587.6,556.14 590.48,561.55 593.36,567.42 596.24,573.41 599.12,579.22 602,584.62 604.88,589.44 607.76,593.58 610.63,597.02 613.51,599.79 616.39,601.94 619.27,603.56 622.15,604.74 625.03,605.58 627.91,606.16 630.79,606.55 633.67,606.81 636.55,606.97 639.42,607.06 642.3,607.12 645.18,607.16 648.06,607.18 650.94,607.19 653.82,607.19 656.7,607.2 659.58,607.2 662.46,607.2 665.34,607.2 668.22,607.2 671.09,607.2 673.97,607.2 676.85,607.2 679.73,607.2 682.61,607.2 685.49,607.2 688.37,607.2 691.25,607.2 694.13,607.2 697.01,607.2 699.88,607.2 702.76,607.2 705.64,607.2 708.52,607.2 711.4,607.2" fill="none" stroke="#E41A1C" stroke-width="1.65" stroke-linecap="round" stroke-linejoin="round" stroke-dasharray="5.0 6.0"/>
<polyline points="423.5,607.19 426.38,607.19 429.26,607.18 432.14,607.17 435.02,607.16 437.89,607.15 440.77,607.14 443.65,607.12 446.53,607.09 449.41,607.06 452.29,607.02 455.17,606.96 458.05,606.9 460.93,606.81 463.81,606.71 466.69,606.59 469.56,606.43 472.44,606.25 475.32,606.03 478.2,605.77 481.08,605.46 483.96,605.1 486.84,604.68 489.72,604.2 492.6,603.64 495.48,603.01 498.35,602.3 501.23,601.51 504.11,600.63 506.99,599.66 509.87,598.6 512.75,597.45 515.63,596.23 518.51,594.93 521.39,593.56 524.26,592.14 527.14,590.68 530.02,589.19 532.9,587.68 535.78,586.19 538.66,584.73 541.54,583.33 544.42,581.99 547.3,580.75 550.18,579.63 553.06,578.64 555.93,577.81 558.81,577.14 561.69,576.66 564.57,576.36 567.45,576.26 570.33,576.36 573.21,576.66 576.09,577.14 578.97,577.81 581.85,578.64 584.72,579.63 587.6,580.75 590.48,581.99 593.36,583.33 596.24,584.73 599.12,586.19 602,587.68 604.88,589.19 607.76,590.68 610.63,592.14 613.51,593.56 616.39,594.93 619.27,596.23 622.15,597.45 625.03,598.6 627.91,599.66 630.79,600.63 633.67,601.51 636.55,602.3 639.42,603.01 642.3,603.64 645.18,604.2 648.06,604.68 650.94,605.1 653.82,605.46 656.7,605.77 659.58,606.03 662.46,606.25 665.34,606.43 668.22,606.59 671.09,606.71 673.97,606.81 676.85,606.9 679.73,606.96 682.61,607.02 685.49,607.06 688.37,607.09 691.25,607.12 694.13,607.14 697.01,607.15 699.88,607.16 702.76,607.17 705.64,607.18 708.52,607.19 711.4,607.19" fill="none" stroke="#4DAF4A" stroke-width="1.65" stroke-linecap="round" stroke-linejoin="round" stroke-dasharray="1.0 4.52"/>
<polyline points="423.5,606.95 426.38,606.95 429.26,606.95 432.14,606.95 435.02,606.95 437.89,606.95 440.77,606.95 443.65,606.95 446.53,606.95 449.41,606.95 452.29,606.95 455.17,606.95 458.05,606.95 460.93,606.95 463.81,606.95 466.69,606.95 469.56,606.95 472.44,606.95 475.32,606.95 478.2,606.95 481.08,606.95 483.96,606.95 486.84,606.95 489.72,606.95 492.6,606.95 495.48,606.95 498.35,606.95 501.23,606.95 504.11,606.95 506.99,606.95 509.87,606.95 512.75,606.95 515.63,606.95 518.51,606.95 521.39,606.95 524.26,606.95 527.14,606.95 530.02,606.95 532.9,606.95 535.78,606.95 538.66,606.95 541.54,606.95 544.42,606.95 547.3,606.95 550.18,606.95 553.06,606.95 555.93,606.95 558.81,606.95 561.69,606.95 564.57,606.95 567.45,606.95 570.33,606.95 573.21,606.95 576.09,606.95 578.97,606.95 581.85,606.95 584.72,606.95 587.6,606.95 590.48,606.95 593.36,606.95 596.24,606.95 599.12,606.95 602,606.95 604.88,606.95 607.76,606.95 610.63,606.95 613.51,606.95 616.39,606.95 619.27,606.95 622.15,606.95 625.03,606.95 627.91,606.95 630.79,606.95 633.67,606.95 636.55,606.95 639.42,606.95 642.3,606.95 645.18,606.95 648.06,606.95 650.94,606.95 653.82,606.95 656.7,606.95 659.58,606.95 662.46,606.95 665.34,606.95 668.22,606.95 671.09,606.95 673.97,606.95 676.85,606.95 679.73,606.95 682.61,606.95 685.49,606.95 688.37,606.95 691.25,606.95 694.13,606.95 697.01,606.95 699.88,606.95 702.76,606.95 705.64,606.95 708.52,606.95 711.4,606.95" fill="none" stroke="#377EB8" stroke-width="1.65" stroke-linecap="round" stroke-linejoin="round" stroke-dasharray="1.0 4.7 4.6 4.9"/>
<rect x="411.9" y="343.5" width="311.5" height="273.8" fill="none" stroke="#4d4d4d" stroke-width="1.05"/>
<path d="M477.48 617.3v4.6M567.45 617.3v4.6M657.42 617.3v4.6M411.9 607.2h-5M411.9 529.65h-5M411.9 452.1h-5M411.9 374.55h-5" stroke="#4d4d4d" stroke-width="1.05" fill="none"/>
<g transform="translate(477.48 633.85)"><text x="0" y="0" class="tk" text-anchor="middle">-0.05</text></g>
<g transform="translate(567.45 633.85)"><text x="0" y="0" class="tk" text-anchor="middle">0.00</text></g>
<g transform="translate(657.42 633.85)"><text x="0" y="0" class="tk" text-anchor="middle">0.05</text></g>
<g transform="translate(401 607.2) rotate(-90)"><text x="0" y="0" class="tk" text-anchor="middle">0</text></g>
<g transform="translate(401 529.65) rotate(-90)"><text x="0" y="0" class="tk" text-anchor="middle">50</text></g>
<g transform="translate(401 452.1) rotate(-90)"><text x="0" y="0" class="tk" text-anchor="middle"><tspan class="hid">1</tspan>00</text><g class="one"><path d="M763 0L583 0L583 1147Q430 1010 223 938L223 1112Q470 1215 646 1409L763 1409Z" transform="translate(-8.93 0) scale(0.005225 -0.005225)"/></g></g>
<g transform="translate(401 374.55) rotate(-90)"><text x="0" y="0" class="tk" text-anchor="middle"><tspan class="hid">1</tspan>50</text><g class="one"><path d="M763 0L583 0L583 1147Q430 1010 223 938L223 1112Q470 1215 646 1409L763 1409Z" transform="translate(-8.93 0) scale(0.005225 -0.005225)"/></g></g>
<text x="567.65" y="651.7" class="ttl" text-anchor="middle">chol</text>
<text transform="translate(383.3 480.4) rotate(-90)" class="ttl" text-anchor="middle">Density</text>
<line x1="629.2" y1="354.05" x2="644.9" y2="354.05" stroke="#000000" stroke-width="1.5" stroke-linecap="round"/>
<text x="653" y="357.3" class="lg">MLE</text>
<line x1="629.2" y1="364.85" x2="644.9" y2="364.85" stroke="#E41A1C" stroke-width="1.5" stroke-linecap="round" stroke-dasharray="5.0 6.0"/>
<text x="653" y="368.1" class="lg">Claude_Weak</text>
<line x1="629.2" y1="375.6" x2="644.9" y2="375.6" stroke="#4DAF4A" stroke-width="1.5" stroke-linecap="round" stroke-dasharray="1.0 4.52"/>
<text x="653" y="378.85" class="lg">Gemini_Weak</text>
<line x1="629.2" y1="386.45" x2="644.9" y2="386.45" stroke="#377EB8" stroke-width="1.5" stroke-linecap="round" stroke-dasharray="1.0 4.7 4.6 4.9"/>
<text x="653" y="389.7" class="lg">ChatGPT_Weak</text>
<g stroke="#d0d0d0" stroke-width="1.0" stroke-dasharray="1.0 1.76" fill="none"><line x1="49.35" y1="681.05" x2="49.35" y2="953.8"/><line x1="121.36" y1="681.05" x2="121.36" y2="953.8"/><line x1="193.37" y1="681.05" x2="193.37" y2="953.8"/><line x1="265.39" y1="681.05" x2="265.39" y2="953.8"/><line x1="337.4" y1="681.05" x2="337.4" y2="953.8"/><line x1="39" y1="944.2" x2="348.95" y2="944.2"/><line x1="39" y1="901.73" x2="348.95" y2="901.73"/><line x1="39" y1="859.25" x2="348.95" y2="859.25"/><line x1="39" y1="816.78" x2="348.95" y2="816.78"/><line x1="39" y1="774.3" x2="348.95" y2="774.3"/><line x1="39" y1="731.83" x2="348.95" y2="731.83"/><line x1="39" y1="689.35" x2="348.95" y2="689.35"/></g>
<polyline points="49.35,944.2 52.23,944.2 55.11,944.2 57.99,944.2 60.87,944.2 63.75,944.2 66.63,944.2 69.51,944.2 72.39,944.2 75.27,944.2 78.16,944.2 81.04,944.2 83.92,944.2 86.8,944.2 89.68,944.2 92.56,944.2 95.44,944.2 98.32,944.2 101.2,944.2 104.08,944.2 106.96,944.2 109.84,944.2 112.72,944.2 115.6,944.2 118.48,944.2 121.36,944.2 124.24,944.2 127.12,944.2 130,944.2 132.88,944.2 135.76,944.2 138.65,944.2 141.53,944.18 144.41,944.05 147.29,943.32 150.17,940.14 153.05,929.59 155.93,903.22 158.81,854.69 161.69,791.93 164.57,742.48 167.45,736.08 170.33,776.97 173.21,839.55 176.09,893.2 178.97,924.84 181.85,938.48 184.73,942.88 187.61,943.96 190.49,944.17 193.37,944.2 196.26,944.2 199.14,944.2 202.02,944.2 204.9,944.2 207.78,944.2 210.66,944.2 213.54,944.2 216.42,944.2 219.3,944.2 222.18,944.2 225.06,944.2 227.94,944.2 230.82,944.2 233.7,944.2 236.58,944.2 239.46,944.2 242.34,944.2 245.22,944.2 248.1,944.2 250.98,944.2 253.87,944.2 256.75,944.2 259.63,944.2 262.51,944.2 265.39,944.2 268.27,944.2 271.15,944.2 274.03,944.2 276.91,944.2 279.79,944.2 282.67,944.2 285.55,944.2 288.43,944.2 291.31,944.2 294.19,944.2 297.07,944.2 299.95,944.2 302.83,944.2 305.71,944.2 308.59,944.2 311.48,944.2 314.36,944.2 317.24,944.2 320.12,944.2 323,944.2 325.88,944.2 328.76,944.2 331.64,944.2 334.52,944.2 337.4,944.2" fill="none" stroke="#000000" stroke-width="1.65" stroke-linecap="round" stroke-linejoin="round"/>
<polyline points="49.35,944.2 52.23,944.2 55.11,944.2 57.99,944.2 60.87,944.2 63.75,944.2 66.63,944.2 69.51,944.2 72.39,944.2 75.27,944.2 78.16,944.2 81.04,944.2 83.92,944.2 86.8,944.2 89.68,944.2 92.56,944.2 95.44,944.2 98.32,944.2 101.2,944.2 104.08,944.2 106.96,944.2 109.84,944.2 112.72,944.2 115.6,944.2 118.48,944.2 121.36,944.2 124.24,944.19 127.12,944.18 130,944.16 132.88,944.11 135.76,944.01 138.65,943.83 141.53,943.51 144.41,942.94 147.29,941.99 150.17,940.48 153.05,938.18 155.93,934.86 158.81,930.26 161.69,924.23 164.57,916.69 167.45,907.81 170.33,897.93 173.21,887.69 176.09,877.89 178.97,869.43 181.85,863.2 184.73,859.9 187.61,859.9 190.49,863.2 193.37,869.43 196.26,877.89 199.14,887.69 202.02,897.93 204.9,907.81 207.78,916.69 210.66,924.23 213.54,930.26 216.42,934.86 219.3,938.18 222.18,940.48 225.06,941.99 227.94,942.94 230.82,943.51 233.7,943.83 236.58,944.01 239.46,944.11 242.34,944.16 245.22,944.18 248.1,944.19 250.98,944.2 253.87,944.2 256.75,944.2 259.63,944.2 262.51,944.2 265.39,944.2 268.27,944.2 271.15,944.2 274.03,944.2 276.91,944.2 279.79,944.2 282.67,944.2 285.55,944.2 288.43,944.2 291.31,944.2 294.19,944.2 297.07,944.2 299.95,944.2 302.83,944.2 305.71,944.2 308.59,944.2 311.48,944.2 314.36,944.2 317.24,944.2 320.12,944.2 323,944.2 325.88,944.2 328.76,944.2 331.64,944.2 334.52,944.2 337.4,944.2" fill="none" stroke="#E41A1C" stroke-width="1.65" stroke-linecap="round" stroke-linejoin="round" stroke-dasharray="5.0 6.0"/>
<polyline points="49.35,944.19 52.23,944.18 55.11,944.18 57.99,944.17 60.87,944.16 63.75,944.15 66.63,944.13 69.51,944.11 72.39,944.08 75.27,944.04 78.16,944 81.04,943.94 83.92,943.87 86.8,943.78 89.68,943.66 92.56,943.53 95.44,943.36 98.32,943.16 101.2,942.92 104.08,942.63 106.96,942.3 109.84,941.9 112.72,941.44 115.6,940.91 118.48,940.3 121.36,939.61 124.24,938.83 127.12,937.96 130,937 132.88,935.94 135.76,934.78 138.65,933.52 141.53,932.18 144.41,930.76 147.29,929.26 150.17,927.7 153.05,926.1 155.93,924.47 158.81,922.82 161.69,921.19 164.57,919.59 167.45,918.05 170.33,916.59 173.21,915.23 176.09,914 178.97,912.92 181.85,912 184.73,911.27 187.61,910.74 190.49,910.42 193.37,910.31 196.26,910.42 199.14,910.74 202.02,911.27 204.9,912 207.78,912.92 210.66,914 213.54,915.23 216.42,916.59 219.3,918.05 222.18,919.59 225.06,921.19 227.94,922.82 230.82,924.47 233.7,926.1 236.58,927.7 239.46,929.26 242.34,930.76 245.22,932.18 248.1,933.52 250.98,934.78 253.87,935.94 256.75,937 259.63,937.96 262.51,938.83 265.39,939.61 268.27,940.3 271.15,940.91 274.03,941.44 276.91,941.9 279.79,942.3 282.67,942.63 285.55,942.92 288.43,943.16 291.31,943.36 294.19,943.53 297.07,943.66 299.95,943.78 302.83,943.87 305.71,943.94 308.59,944 311.48,944.04 314.36,944.08 317.24,944.11 320.12,944.13 323,944.15 325.88,944.16 328.76,944.17 331.64,944.18 334.52,944.18 337.4,944.19" fill="none" stroke="#4DAF4A" stroke-width="1.65" stroke-linecap="round" stroke-linejoin="round" stroke-dasharray="1.0 4.52"/>
<polyline points="49.35,943.52 52.23,943.52 55.11,943.52 57.99,943.52 60.87,943.52 63.75,943.52 66.63,943.52 69.51,943.52 72.39,943.52 75.27,943.52 78.16,943.52 81.04,943.52 83.92,943.52 86.8,943.52 89.68,943.52 92.56,943.52 95.44,943.52 98.32,943.52 101.2,943.52 104.08,943.52 106.96,943.52 109.84,943.52 112.72,943.52 115.6,943.52 118.48,943.52 121.36,943.52 124.24,943.52 127.12,943.52 130,943.52 132.88,943.52 135.76,943.52 138.65,943.52 141.53,943.52 144.41,943.52 147.29,943.52 150.17,943.52 153.05,943.52 155.93,943.52 158.81,943.52 161.69,943.52 164.57,943.52 167.45,943.52 170.33,943.52 173.21,943.52 176.09,943.52 178.97,943.52 181.85,943.52 184.73,943.52 187.61,943.52 190.49,943.52 193.37,943.52 196.26,943.52 199.14,943.52 202.02,943.52 204.9,943.52 207.78,943.52 210.66,943.52 213.54,943.52 216.42,943.52 219.3,943.52 222.18,943.52 225.06,943.52 227.94,943.52 230.82,943.52 233.7,943.52 236.58,943.52 239.46,943.52 242.34,943.52 245.22,943.52 248.1,943.52 250.98,943.52 253.87,943.52 256.75,943.52 259.63,943.52 262.51,943.52 265.39,943.52 268.27,943.52 271.15,943.52 274.03,943.52 276.91,943.52 279.79,943.52 282.67,943.52 285.55,943.52 288.43,943.52 291.31,943.52 294.19,943.52 297.07,943.52 299.95,943.52 302.83,943.52 305.71,943.52 308.59,943.52 311.48,943.52 314.36,943.52 317.24,943.52 320.12,943.52 323,943.52 325.88,943.52 328.76,943.52 331.64,943.52 334.52,943.52 337.4,943.52" fill="none" stroke="#377EB8" stroke-width="1.65" stroke-linecap="round" stroke-linejoin="round" stroke-dasharray="1.0 4.7 4.6 4.9"/>
<rect x="38.5" y="680.55" width="310.95" height="273.75" fill="none" stroke="#4d4d4d" stroke-width="1.05"/>
<path d="M49.35 954.3v4.6M121.36 954.3v4.6M193.37 954.3v4.6M265.39 954.3v4.6M337.4 954.3v4.6M38.5 944.2h-5M38.5 901.73h-5M38.5 859.25h-5M38.5 816.78h-5M38.5 774.3h-5M38.5 731.83h-5M38.5 689.35h-5" stroke="#4d4d4d" stroke-width="1.05" fill="none"/>
<g transform="translate(49.35 970.85)"><text x="0" y="0" class="tk" text-anchor="middle">-0.2</text></g>
<g transform="translate(121.36 970.85)"><text x="0" y="0" class="tk" text-anchor="middle">-0.<tspan class="hid">1</tspan></text><g class="one"><path d="M763 0L583 0L583 1147Q430 1010 223 938L223 1112Q470 1215 646 1409L763 1409Z" transform="translate(3.27 0) scale(0.005225 -0.005225)"/></g></g>
<g transform="translate(193.37 970.85)"><text x="0" y="0" class="tk" text-anchor="middle">0.0</text></g>
<g transform="translate(265.39 970.85)"><text x="0" y="0" class="tk" text-anchor="middle">0.<tspan class="hid">1</tspan></text><g class="one"><path d="M763 0L583 0L583 1147Q430 1010 223 938L223 1112Q470 1215 646 1409L763 1409Z" transform="translate(1.49 0) scale(0.005225 -0.005225)"/></g></g>
<g transform="translate(337.4 970.85)"><text x="0" y="0" class="tk" text-anchor="middle">0.2</text></g>
<g transform="translate(27.6 944.2) rotate(-90)"><text x="0" y="0" class="tk" text-anchor="middle">0</text></g>
<g transform="translate(27.6 901.73) rotate(-90)"><text x="0" y="0" class="tk" text-anchor="middle"><tspan class="hid">1</tspan>0</text><g class="one"><path d="M763 0L583 0L583 1147Q430 1010 223 938L223 1112Q470 1215 646 1409L763 1409Z" transform="translate(-5.95 0) scale(0.005225 -0.005225)"/></g></g>
<g transform="translate(27.6 859.25) rotate(-90)"><text x="0" y="0" class="tk" text-anchor="middle">20</text></g>
<g transform="translate(27.6 816.78) rotate(-90)"><text x="0" y="0" class="tk" text-anchor="middle">30</text></g>
<g transform="translate(27.6 774.3) rotate(-90)"><text x="0" y="0" class="tk" text-anchor="middle">40</text></g>
<g transform="translate(27.6 731.83) rotate(-90)"><text x="0" y="0" class="tk" text-anchor="middle">50</text></g>
<g transform="translate(27.6 689.35) rotate(-90)"><text x="0" y="0" class="tk" text-anchor="middle">60</text></g>
<text x="193.97" y="988.7" class="ttl" text-anchor="middle">thalach</text>
<text transform="translate(9.9 817.42) rotate(-90)" class="ttl" text-anchor="middle">Density</text>
<line x1="255.25" y1="691.1" x2="270.95" y2="691.1" stroke="#000000" stroke-width="1.5" stroke-linecap="round"/>
<text x="279.05" y="694.35" class="lg">MLE</text>
<line x1="255.25" y1="701.9" x2="270.95" y2="701.9" stroke="#E41A1C" stroke-width="1.5" stroke-linecap="round" stroke-dasharray="5.0 6.0"/>
<text x="279.05" y="705.15" class="lg">Claude_Weak</text>
<line x1="255.25" y1="712.65" x2="270.95" y2="712.65" stroke="#4DAF4A" stroke-width="1.5" stroke-linecap="round" stroke-dasharray="1.0 4.52"/>
<text x="279.05" y="715.9" class="lg">Gemini_Weak</text>
<line x1="255.25" y1="723.5" x2="270.95" y2="723.5" stroke="#377EB8" stroke-width="1.5" stroke-linecap="round" stroke-dasharray="1.0 4.7 4.6 4.9"/>
<text x="279.05" y="726.75" class="lg">ChatGPT_Weak</text>
<g stroke="#d0d0d0" stroke-width="1.0" stroke-dasharray="1.0 1.76" fill="none"><line x1="423.5" y1="681.05" x2="423.5" y2="953.8"/><line x1="495.48" y1="681.05" x2="495.48" y2="953.8"/><line x1="567.45" y1="681.05" x2="567.45" y2="953.8"/><line x1="639.42" y1="681.05" x2="639.42" y2="953.8"/><line x1="711.4" y1="681.05" x2="711.4" y2="953.8"/><line x1="412.4" y1="944.25" x2="722.9" y2="944.25"/><line x1="412.4" y1="905.7" x2="722.9" y2="905.7"/><line x1="412.4" y1="867.15" x2="722.9" y2="867.15"/><line x1="412.4" y1="828.6" x2="722.9" y2="828.6"/><line x1="412.4" y1="790.05" x2="722.9" y2="790.05"/><line x1="412.4" y1="751.5" x2="722.9" y2="751.5"/><line x1="412.4" y1="712.95" x2="722.9" y2="712.95"/></g>
<polyline points="423.5,944.25 426.38,944.25 429.26,944.25 432.14,944.25 435.02,944.25 437.89,944.25 440.77,944.25 443.65,944.25 446.53,944.25 449.41,944.25 452.29,944.25 455.17,944.25 458.05,944.25 460.93,944.25 463.81,944.25 466.69,944.25 469.56,944.25 472.44,944.25 475.32,944.25 478.2,944.25 481.08,944.25 483.96,944.25 486.84,944.25 489.72,944.25 492.6,944.25 495.48,944.25 498.35,944.25 501.23,944.25 504.11,944.25 506.99,944.25 509.87,944.25 512.75,944.25 515.63,944.25 518.51,944.25 521.39,944.25 524.26,944.25 527.14,944.25 530.02,944.25 532.9,944.25 535.78,944.25 538.66,944.25 541.54,944.25 544.42,944.25 547.3,944.25 550.18,944.25 553.06,944.25 555.93,944.25 558.81,944.25 561.69,944.25 564.57,944.25 567.45,944.23 570.33,944.1 573.21,943.19 576.09,938.76 578.97,923.3 581.85,885.27 584.72,821.79 587.6,756.73 590.48,732.45 593.36,767.8 596.24,835.83 599.12,895.12 602,927.83 604.88,940.2 607.76,943.51 610.63,944.15 613.51,944.24 616.39,944.25 619.27,944.25 622.15,944.25 625.03,944.25 627.91,944.25 630.79,944.25 633.67,944.25 636.55,944.25 639.42,944.25 642.3,944.25 645.18,944.25 648.06,944.25 650.94,944.25 653.82,944.25 656.7,944.25 659.58,944.25 662.46,944.25 665.34,944.25 668.21,944.25 671.09,944.25 673.97,944.25 676.85,944.25 679.73,944.25 682.61,944.25 685.49,944.25 688.37,944.25 691.25,944.25 694.13,944.25 697,944.25 699.88,944.25 702.76,944.25 705.64,944.25 708.52,944.25 711.4,944.25" fill="none" stroke="#000000" stroke-width="1.65" stroke-linecap="round" stroke-linejoin="round"/>
<polyline points="423.5,944.25 426.38,944.25 429.26,944.25 432.14,944.25 435.02,944.25 437.89,944.25 440.77,944.25 443.65,944.25 446.53,944.25 449.41,944.25 452.29,944.25 455.17,944.25 458.05,944.25 460.93,944.25 463.81,944.25 466.69,944.25 469.56,944.25 472.44,944.25 475.32,944.25 478.2,944.25 481.08,944.25 483.96,944.25 486.84,944.25 489.72,944.25 492.6,944.25 495.48,944.25 498.35,944.25 501.23,944.25 504.11,944.25 506.99,944.25 509.87,944.25 512.75,944.25 515.63,944.24 518.51,944.24 521.39,944.22 524.26,944.18 527.14,944.11 530.02,943.97 532.9,943.71 535.78,943.26 538.66,942.5 541.54,941.27 544.42,939.39 547.3,936.63 550.18,932.76 553.06,927.62 555.93,921.12 558.81,913.34 561.69,904.56 564.57,895.28 567.45,886.21 570.33,878.15 573.21,871.92 576.09,868.21 578.97,867.45 581.85,869.72 584.72,874.76 587.6,882 590.48,890.67 593.36,899.94 596.24,909.04 599.12,917.37 602,924.54 604.88,930.36 607.76,934.85 610.63,938.13 613.51,940.43 616.39,941.95 619.27,942.93 622.15,943.52 625.03,943.86 627.91,944.05 630.79,944.15 633.67,944.2 636.55,944.23 639.42,944.24 642.3,944.25 645.18,944.25 648.06,944.25 650.94,944.25 653.82,944.25 656.7,944.25 659.58,944.25 662.46,944.25 665.34,944.25 668.21,944.25 671.09,944.25 673.97,944.25 676.85,944.25 679.73,944.25 682.61,944.25 685.49,944.25 688.37,944.25 691.25,944.25 694.13,944.25 697,944.25 699.88,944.25 702.76,944.25 705.64,944.25 708.52,944.25 711.4,944.25" fill="none" stroke="#E41A1C" stroke-width="1.65" stroke-linecap="round" stroke-linejoin="round" stroke-dasharray="5.0 6.0"/>
<polyline points="423.5,944.24 426.38,944.24 429.26,944.23 432.14,944.22 435.02,944.21 437.89,944.2 440.77,944.19 443.65,944.17 446.53,944.14 449.41,944.11 452.29,944.07 455.17,944.01 458.05,943.95 460.93,943.87 463.81,943.76 466.69,943.64 469.56,943.49 472.44,943.31 475.32,943.09 478.2,942.83 481.08,942.52 483.96,942.16 486.84,941.75 489.72,941.27 492.6,940.71 495.48,940.09 498.35,939.38 501.23,938.59 504.11,937.71 506.99,936.75 509.87,935.7 512.75,934.56 515.63,933.34 518.51,932.05 521.39,930.69 524.26,929.28 527.14,927.82 530.02,926.34 532.9,924.85 535.78,923.37 538.66,921.91 541.54,920.51 544.42,919.19 547.3,917.96 550.18,916.84 553.06,915.86 555.93,915.03 558.81,914.36 561.69,913.88 564.57,913.59 567.45,913.49 570.33,913.59 573.21,913.88 576.09,914.36 578.97,915.03 581.85,915.86 584.72,916.84 587.6,917.96 590.48,919.19 593.36,920.51 596.24,921.91 599.12,923.37 602,924.85 604.88,926.34 607.76,927.82 610.63,929.28 613.51,930.69 616.39,932.05 619.27,933.34 622.15,934.56 625.03,935.7 627.91,936.75 630.79,937.71 633.67,938.59 636.55,939.38 639.42,940.09 642.3,940.71 645.18,941.27 648.06,941.75 650.94,942.16 653.82,942.52 656.7,942.83 659.58,943.09 662.46,943.31 665.34,943.49 668.21,943.64 671.09,943.76 673.97,943.87 676.85,943.95 679.73,944.01 682.61,944.07 685.49,944.11 688.37,944.14 691.25,944.17 694.13,944.19 697,944.2 699.88,944.21 702.76,944.22 705.64,944.23 708.52,944.24 711.4,944.24" fill="none" stroke="#4DAF4A" stroke-width="1.65" stroke-linecap="round" stroke-linejoin="round" stroke-dasharray="1.0 4.52"/>
<polyline points="423.5,940.83 426.38,940.65 429.26,940.47 432.14,940.28 435.02,940.09 437.89,939.89 440.77,939.68 443.65,939.48 446.53,939.26 449.41,939.05 452.29,938.83 455.17,938.6 458.05,938.38 460.93,938.15 463.81,937.91 466.69,937.68 469.56,937.44 472.44,937.21 475.32,936.97 478.2,936.73 481.08,936.49 483.96,936.25 486.84,936.01 489.72,935.78 492.6,935.55 495.48,935.32 498.35,935.09 501.23,934.87 504.11,934.65 506.99,934.43 509.87,934.23 512.75,934.02 515.63,933.83 518.51,933.64 521.39,933.46 524.26,933.29 527.14,933.12 530.02,932.97 532.9,932.82 535.78,932.69 538.66,932.56 541.54,932.45 544.42,932.34 547.3,932.25 550.18,932.17 553.06,932.1 555.93,932.05 558.81,932 561.69,931.97 564.57,931.95 567.45,931.95 570.33,931.95 573.21,931.97 576.09,932 578.97,932.05 581.85,932.1 584.72,932.17 587.6,932.25 590.48,932.34 593.36,932.45 596.24,932.56 599.12,932.69 602,932.82 604.88,932.97 607.76,933.12 610.63,933.29 613.51,933.46 616.39,933.64 619.27,933.83 622.15,934.02 625.03,934.23 627.91,934.43 630.79,934.65 633.67,934.87 636.55,935.09 639.42,935.32 642.3,935.55 645.18,935.78 648.06,936.01 650.94,936.25 653.82,936.49 656.7,936.73 659.58,936.97 662.46,937.21 665.34,937.44 668.21,937.68 671.09,937.91 673.97,938.15 676.85,938.38 679.73,938.6 682.61,938.83 685.49,939.05 688.37,939.26 691.25,939.48 694.13,939.68 697,939.89 699.88,940.09 702.76,940.28 705.64,940.47 708.52,940.65 711.4,940.83" fill="none" stroke="#377EB8" stroke-width="1.65" stroke-linecap="round" stroke-linejoin="round" stroke-dasharray="1.0 4.7 4.6 4.9"/>
<rect x="411.9" y="680.55" width="311.5" height="273.75" fill="none" stroke="#4d4d4d" stroke-width="1.05"/>
<path d="M423.5 954.3v4.6M495.48 954.3v4.6M567.45 954.3v4.6M639.42 954.3v4.6M711.4 954.3v4.6M411.9 944.25h-5M411.9 905.7h-5M411.9 867.15h-5M411.9 828.6h-5M411.9 790.05h-5M411.9 751.5h-5M411.9 712.95h-5" stroke="#4d4d4d" stroke-width="1.05" fill="none"/>
<g transform="translate(423.5 970.85)"><text x="0" y="0" class="tk" text-anchor="middle">-4</text></g>
<g transform="translate(495.48 970.85)"><text x="0" y="0" class="tk" text-anchor="middle">-2</text></g>
<g transform="translate(567.45 970.85)"><text x="0" y="0" class="tk" text-anchor="middle">0</text></g>
<g transform="translate(639.42 970.85)"><text x="0" y="0" class="tk" text-anchor="middle">2</text></g>
<g transform="translate(711.4 970.85)"><text x="0" y="0" class="tk" text-anchor="middle">4</text></g>
<g transform="translate(401 944.25) rotate(-90)"><text x="0" y="0" class="tk" text-anchor="middle">0.0</text></g>
<g transform="translate(401 905.7) rotate(-90)"><text x="0" y="0" class="tk" text-anchor="middle">0.5</text></g>
<g transform="translate(401 867.15) rotate(-90)"><text x="0" y="0" class="tk" text-anchor="middle"><tspan class="hid">1</tspan>.0</text><g class="one"><path d="M763 0L583 0L583 1147Q430 1010 223 938L223 1112Q470 1215 646 1409L763 1409Z" transform="translate(-7.44 0) scale(0.005225 -0.005225)"/></g></g>
<g transform="translate(401 828.6) rotate(-90)"><text x="0" y="0" class="tk" text-anchor="middle"><tspan class="hid">1</tspan>.5</text><g class="one"><path d="M763 0L583 0L583 1147Q430 1010 223 938L223 1112Q470 1215 646 1409L763 1409Z" transform="translate(-7.44 0) scale(0.005225 -0.005225)"/></g></g>
<g transform="translate(401 790.05) rotate(-90)"><text x="0" y="0" class="tk" text-anchor="middle">2.0</text></g>
<g transform="translate(401 751.5) rotate(-90)"><text x="0" y="0" class="tk" text-anchor="middle">2.5</text></g>
<g transform="translate(401 712.95) rotate(-90)"><text x="0" y="0" class="tk" text-anchor="middle">3.0</text></g>
<text x="567.65" y="988.7" class="ttl" text-anchor="middle">oldpeak</text>
<text transform="translate(383.3 817.42) rotate(-90)" class="ttl" text-anchor="middle">Density</text>
<line x1="629.2" y1="691.1" x2="644.9" y2="691.1" stroke="#000000" stroke-width="1.5" stroke-linecap="round"/>
<text x="653" y="694.35" class="lg">MLE</text>
<line x1="629.2" y1="701.9" x2="644.9" y2="701.9" stroke="#E41A1C" stroke-width="1.5" stroke-linecap="round" stroke-dasharray="5.0 6.0"/>
<text x="653" y="705.15" class="lg">Claude_Weak</text>
<line x1="629.2" y1="712.65" x2="644.9" y2="712.65" stroke="#4DAF4A" stroke-width="1.5" stroke-linecap="round" stroke-dasharray="1.0 4.52"/>
<text x="653" y="715.9" class="lg">Gemini_Weak</text>
<line x1="629.2" y1="723.5" x2="644.9" y2="723.5" stroke="#377EB8" stroke-width="1.5" stroke-linecap="round" stroke-dasharray="1.0 4.7 4.6 4.9"/>
<text x="653" y="726.75" class="lg">ChatGPT_Weak</text>
</svg>
</body></html>
